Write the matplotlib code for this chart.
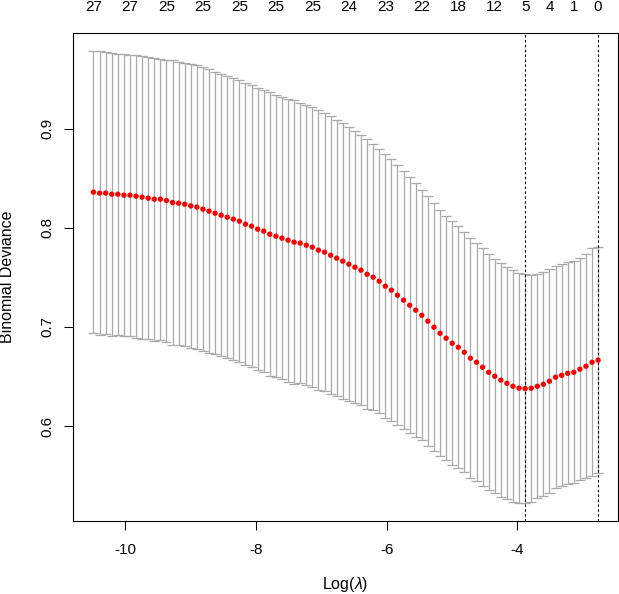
import numpy as np
import matplotlib
matplotlib.use("Agg")
import matplotlib.pyplot as plt
from matplotlib.transforms import blended_transform_factory

plt.rcParams["font.family"] = ["Liberation Sans", "DejaVu Sans"]
plt.rcParams["mathtext.fontset"] = "custom"
plt.rcParams["mathtext.rm"] = "Liberation Sans"
plt.rcParams["mathtext.it"] = "Liberation Sans:italic"

# lambda path (log scale, evenly spaced as glmnet builds it)
log_lambda = np.linspace(-10.49, -2.763, 84)

# cross-validated mean binomial deviance
cvm = [
    0.8361, 0.8351, 0.8351, 0.8340, 0.8340, 0.8330, 0.8330, 0.8320, 0.8310, 0.8300,
    0.8290, 0.8290, 0.8276, 0.8256, 0.8249, 0.8239, 0.8222, 0.8210, 0.8189, 0.8169,
    0.8148, 0.8128, 0.8108, 0.8088, 0.8068, 0.8037, 0.8017, 0.7987, 0.7967, 0.7936,
    0.7916, 0.7896, 0.7876, 0.7856, 0.7846, 0.7825, 0.7805, 0.7775, 0.7755, 0.7724,
    0.7694, 0.7664, 0.7633, 0.7603, 0.7573, 0.7532, 0.7502, 0.7462, 0.7411, 0.7371,
    0.7320, 0.7270, 0.7219, 0.7169, 0.7118, 0.7058, 0.6997, 0.6936, 0.6886, 0.6835,
    0.6795, 0.6744, 0.6684, 0.6643, 0.6593, 0.6542, 0.6502, 0.6462, 0.6431, 0.6401,
    0.6382, 0.6378, 0.6381, 0.6401, 0.6421, 0.6452, 0.6492, 0.6512, 0.6532, 0.6542,
    0.6573, 0.6603, 0.6643, 0.6664,
]

# standard error (half length of each bar)
cvsd = [
    0.1424, 0.1430, 0.1424, 0.1427, 0.1420, 0.1424, 0.1420, 0.1427, 0.1427, 0.1427,
    0.1430, 0.1420, 0.1424, 0.1434, 0.1430, 0.1430, 0.1434, 0.1430, 0.1434, 0.1437,
    0.1424, 0.1424, 0.1424, 0.1424, 0.1424, 0.1424, 0.1424, 0.1424, 0.1424, 0.1434,
    0.1424, 0.1424, 0.1430, 0.1434, 0.1414, 0.1414, 0.1414, 0.1414, 0.1404, 0.1404,
    0.1394, 0.1394, 0.1384, 0.1374, 0.1364, 0.1364, 0.1343, 0.1333, 0.1333, 0.1323,
    0.1313, 0.1303, 0.1293, 0.1283, 0.1263, 0.1263, 0.1253, 0.1242, 0.1232, 0.1232,
    0.1222, 0.1212, 0.1212, 0.1202, 0.1202, 0.1192, 0.1182, 0.1182, 0.1172, 0.1172,
    0.1162, 0.1152, 0.1144, 0.1131, 0.1131, 0.1131, 0.1121, 0.1121, 0.1121, 0.1121,
    0.1121, 0.1131, 0.1152, 0.1141,
]

# number of nonzero coefficients shown on the top axis
top_index = [0, 6, 12, 18, 24, 30, 36, 42, 48, 54, 60, 66, 71, 75, 79, 83]
top_nzero = [27, 27, 25, 25, 25, 25, 25, 24, 23, 22, 18, 12, 5, 4, 1, 0]

idx_min = 71   # lambda.min
idx_1se = 83   # lambda.1se

x = np.array(log_lambda)
m = np.array(cvm)
sd = np.array(cvsd)
up = m + sd
lo = m - sd

fig = plt.figure(figsize=(6.19, 5.94), dpi=100)
ax = fig.add_axes([73.3 / 619, 72.7 / 594, 545.0 / 619, 488.3 / 594])

# error bars like glmnet's error.bars
barw = 0.01 * (x.max() - x.min())
ax.vlines(x, lo, up, colors="darkgrey", linewidth=0.9)
ax.hlines(up, x - barw, x + barw, colors="darkgrey", linewidth=0.9)
ax.hlines(lo, x - barw, x + barw, colors="darkgrey", linewidth=0.9)

ax.scatter(x, m, s=15, c="red", edgecolors="none", zorder=3)

for i in (idx_min, idx_1se):
    ax.axvline(x[i], color="black", linewidth=0.8, linestyle=(0, (2.2, 2.2)))

# R style 4% padding
xr = x.max() - x.min()
ax.set_xlim(x.min() - 0.04 * xr, x.max() + 0.04 * xr)
yr = up.max() - lo.min()
ax.set_ylim(lo.min() - 0.04 * yr, up.max() + 0.04 * yr)

ax.set_xticks([-10, -8, -6, -4])
ax.set_xticklabels(["-10", "-8", "-6", "-4"])
ax.set_yticks([0.6, 0.7, 0.8, 0.9])
ax.set_yticklabels(["0.6", "0.7", "0.8", "0.9"], rotation=90, va="center")
ax.tick_params(axis="both", direction="out", length=6.5, width=0.75,
               labelsize=11, color="black")
ax.tick_params(axis="x", pad=9)
ax.tick_params(axis="y", pad=7)
for s in ax.spines.values():
    s.set_linewidth(0.8)
    s.set_color("black")

# top axis labels (no tick marks)
trans = blended_transform_factory(ax.transData, fig.transFigure)
for i, n in zip(top_index, top_nzero):
    ax.text(x[i], 1 - 7 / 594, str(n), transform=trans, ha="center",
            va="center", fontsize=11, clip_on=False)

fig.text(345.5 / 619, 1 - 584 / 594, r"Log($\lambda$)", ha="center",
         va="center", fontsize=11.5)
fig.text(8 / 619, 1 - 277 / 594, "Binomial Deviance", ha="center",
         va="center", rotation=90, fontsize=11.5)

fig.savefig("out.png", dpi=100)
